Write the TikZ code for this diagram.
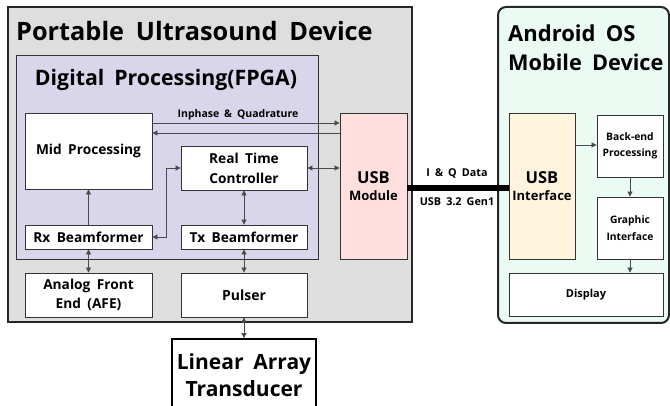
\documentclass[tikz,border=0pt]{standalone}
\usepackage{fontspec}
\setmainfont{Open Sans}[WordSpace={1.8,1,1}]
\usetikzlibrary{arrows.meta,calc}
\definecolor{grayfill}{HTML}{DEDEDE}
\definecolor{purplefill}{HTML}{D9D5EA}
\definecolor{pinkfill}{HTML}{FFDEDE}
\definecolor{greenfill}{HTML}{EAFBF3}
\definecolor{creamfill}{HTML}{FFF5DD}
\definecolor{edge}{HTML}{333333}
\definecolor{wire}{HTML}{4A4A4A}
\begin{document}
\begin{tikzpicture}[x=1pt,y=-1pt,
  blk/.style={draw=edge,line width=0.8pt,fill=white,inner sep=0pt,align=center},
  arr/.style={draw=wire,line width=0.7pt,-{Triangle[length=5pt,width=5pt]}},
  darr/.style={draw=wire,line width=0.7pt,{Triangle[length=5pt,width=5pt]}-{Triangle[length=5pt,width=5pt]}}]
\useasboundingbox (0,0) rectangle (670,406);
% containers
\node[draw=black!85,line width=2pt,fill=grayfill,minimum width=404pt,minimum height=315pt,inner sep=0pt] (dev) at (210,164.5) {};
\node[draw=edge,line width=0.9pt,fill=purplefill,minimum width=302pt,minimum height=204pt,inner sep=0pt] (fpga) at (167,157) {};
\node[draw=black!85,line width=2pt,fill=greenfill,rounded corners=8pt,minimum width=171pt,minimum height=316pt,inner sep=0pt] (mob) at (583.5,165) {};
% titles
\node[anchor=base west,inner sep=0pt,font=\bfseries\fontsize{25.3}{28}\selectfont] (t1) at (16,41) {Portable Ultrasound Device};
\node[anchor=base,inner sep=0pt,font=\bfseries\fontsize{21.3}{25}\selectfont] (t2) at (166,86) {Digital Processing(FPGA)};
\node[anchor=base west,inner sep=0pt,font=\bfseries\fontsize{22}{25}\selectfont] (t3) at (508,42) {Android OS};
\node[anchor=base west,inner sep=0pt,font=\bfseries\fontsize{21.7}{25}\selectfont] (t4) at (508,70.5) {Mobile Device};
% blocks
\node[blk,minimum width=127pt,minimum height=76pt,font=\bfseries\fontsize{13.7}{16}\selectfont] (mid) at (88.5,151) {Mid Processing};
\node[blk,minimum width=126pt,minimum height=44pt,font=\bfseries\fontsize{13.7}{20}\selectfont] (rtc) at (244,168) {Real Time\\Controller};
\node[blk,minimum width=127pt,minimum height=24pt,font=\bfseries\fontsize{13.7}{16}\selectfont] (rx) at (88.5,237) {Rx Beamformer};
\node[blk,minimum width=126pt,minimum height=24pt,font=\bfseries\fontsize{13.7}{16}\selectfont] (tx) at (244,237) {Tx Beamformer};
\node[blk,minimum width=127pt,minimum height=44pt,font=\bfseries\fontsize{13.7}{19}\selectfont] (afe) at (88.5,295) {Analog Front\\End (AFE)};
\node[blk,minimum width=126pt,minimum height=44pt,font=\bfseries\fontsize{14}{17}\selectfont] (pul) at (244,295) {Pulser};
\node[blk,fill=pinkfill,minimum width=67pt,minimum height=146pt,font=\bfseries] (usbm) at (373.5,186) {{\fontsize{16.5}{20}\selectfont USB}\\[5pt]{\fontsize{13}{16}\selectfont Module}};
\node[blk,line width=1.8pt,draw=black,minimum width=144pt,minimum height=72pt,font=\bfseries\fontsize{21}{27}\selectfont] (lat) at (244,375) {Linear Array\\Transducer};
\node[blk,fill=creamfill,minimum width=66pt,minimum height=146pt,font=\bfseries] (usbi) at (542,186) {{\fontsize{16.5}{20}\selectfont USB}\\[5pt]{\fontsize{13}{16}\selectfont Interface}};
\node[blk,minimum width=66pt,minimum height=62pt,font=\bfseries\fontsize{10.3}{16.5}\selectfont] (back) at (630,146) {Back-end\\Processing};
\node[blk,minimum width=66pt,minimum height=62pt,font=\bfseries\fontsize{10.3}{16.5}\selectfont] (gfx) at (630,228) {Graphic\\Interface};
\node[blk,minimum width=154pt,minimum height=43pt,font=\bfseries\fontsize{11}{14}\selectfont] (disp) at (586,294.5) {Display};
% connectors
\coordinate (iq1) at (0,123);
\coordinate (iq2) at (0,133);
\draw[arr] (mid.east |- iq1) -- (usbm.west |- iq1);
\draw[arr] (usbm.west |- iq2) -- (mid.east |- iq2);
\node[font=\bfseries\fontsize{10.5}{12}\selectfont,anchor=base,inner sep=0pt] (iqlab) at (238,118) {Inphase \& Quadrature};
\draw[arr] (rx.north) -- (mid.south);
\draw[darr] (rx.east) -- ++(14,0) |- (rtc.west);
\draw[darr] (rtc.east) -- (usbm.west |- rtc.east);
\draw[darr] (rtc.south) -- (tx.north);
\draw[darr] (rx.south) -- (afe.north);
\draw[darr] (tx.south) -- (pul.north);
\draw[darr] (pul.south) -- (lat.north);
\coordinate (lk) at (0,188);
\draw[line width=5.5pt,black] (usbm.east |- lk) -- (usbi.west |- lk);
\node[font=\bfseries\fontsize{10.8}{12}\selectfont,anchor=base,inner sep=0pt] (lk1) at (457,177) {I \& Q Data};
\node[font=\bfseries\fontsize{10.8}{12}\selectfont,anchor=base,inner sep=0pt] (lk2) at (457,206) {USB 3.2 Gen1};
\coordinate (bk) at (0,145);
\draw[arr] (usbi.east |- bk) -- (back.west |- bk);
\draw[arr] (back.south) -- (gfx.north);
\draw[arr] (gfx.south) -- (disp.north -| gfx.south);
\end{tikzpicture}
\end{document}
